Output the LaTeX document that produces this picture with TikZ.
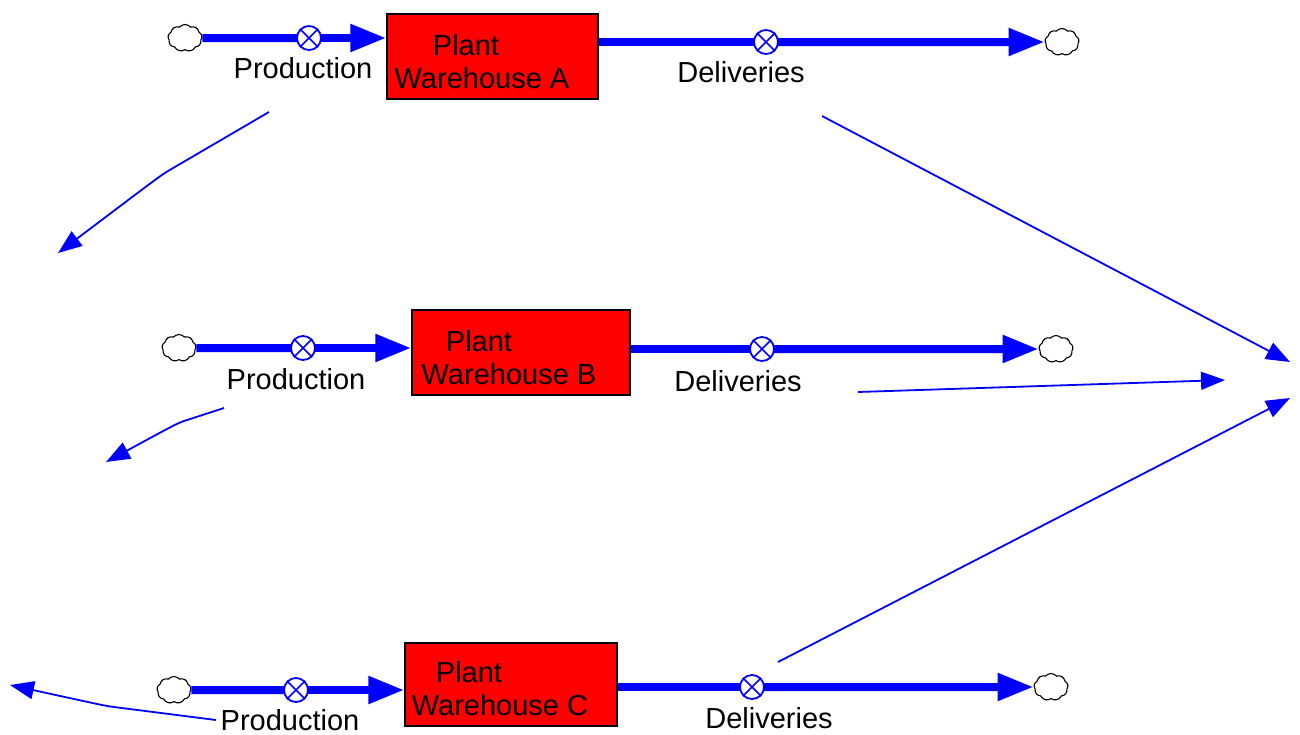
\documentclass[tikz,border=0pt]{standalone}
\usepackage{fontspec}
\setmainfont{Liberation Sans}
\usetikzlibrary{arrows.meta,shapes.symbols}
\definecolor{flowblue}{RGB}{0,0,255}
\definecolor{stockred}{RGB}{255,0,0}
\tikzset{
  stockbox/.style={draw=black,line width=1.2pt,fill=stockred,minimum width=211pt,minimum height=85pt,inner sep=0pt},
  valvering/.style={draw=flowblue,fill=white,circle,line width=1.8pt,minimum size=24pt,inner sep=0pt},
  valvecross/.style={draw=flowblue,line width=1.6pt},
  sink/.style={cloud,cloud puffs=9,cloud puff arc=100,aspect=1.25,draw=black,line width=1.1pt,fill=white,minimum width=34pt,minimum height=27pt,inner sep=0pt},
  flow/.style={draw=flowblue,line width=8pt},
  flowend/.style={flow,-{Triangle[length=36pt,width=26pt]}},
  link/.style={draw=flowblue,line width=1.8pt,-{Triangle[length=24pt,width=18pt]}},
  lbl/.style={font=\fontsize{29}{33}\selectfont,inner sep=0pt,text=black},
}
\begin{document}
\begin{tikzpicture}[x=1pt,y=-1pt]
\useasboundingbox (0,0) rectangle (1300,734);

% ---------- Plant Warehouse A ----------
\node[stockbox] (whA) at (492.5,56.5) {};
\node[lbl] (whAt1) at (466,45) {Plant};
\node[lbl] (whAt2) at (482,78) {Warehouse A};
\node[sink] (srcA) at (185,38) {};
\node[sink] (snkA) at (1062,42) {};
\coordinate (vA) at (309,38);
\coordinate (vdA) at (766,42);
\draw[flow] (srcA.east) -- (vA);
\draw[flowend] (vA) -- (vA -| whA.west);
\draw[flow] (vdA -| whA.east) -- (vdA);
\draw[flowend] (vdA) -- (snkA.west);
\node[valvering] (valvePA) at (vA) {};
\draw[valvecross] (valvePA.north west) -- (valvePA.south east) (valvePA.south west) -- (valvePA.north east);
\node[valvering] (valveDA) at (vdA) {};
\draw[valvecross] (valveDA.north west) -- (valveDA.south east) (valveDA.south west) -- (valveDA.north east);
\node[lbl] (prodA) at (303,68) {Production};
\node[lbl] (delA) at (741,72) {Deliveries};

% ---------- Plant Warehouse B ----------
\node[stockbox,minimum width=218pt] (whB) at (521,352.5) {};
\node[lbl] (whBt1) at (479,341) {Plant};
\node[lbl] (whBt2) at (509,374) {Warehouse B};
\node[sink] (srcB) at (179,348) {};
\node[sink] (snkB) at (1056,349) {};
\coordinate (vB) at (303,348);
\coordinate (vdB) at (762,349);
\draw[flow] (srcB.east) -- (vB);
\draw[flowend] (vB) -- (vB -| whB.west);
\draw[flow] (vdB -| whB.east) -- (vdB);
\draw[flowend] (vdB) -- (snkB.west);
\node[valvering] (valvePB) at (vB) {};
\draw[valvecross] (valvePB.north west) -- (valvePB.south east) (valvePB.south west) -- (valvePB.north east);
\node[valvering] (valveDB) at (vdB) {};
\draw[valvecross] (valveDB.north west) -- (valveDB.south east) (valveDB.south west) -- (valveDB.north east);
\node[lbl] (prodB) at (296,379) {Production};
\node[lbl] (delB) at (738,381) {Deliveries};

% ---------- Plant Warehouse C ----------
\node[stockbox,minimum width=212pt,minimum height=83pt] (whC) at (511,684.5) {};
\node[lbl] (whCt1) at (469,672) {Plant};
\node[lbl] (whCt2) at (500,705) {Warehouse C};
\node[sink] (srcC) at (174,690) {};
\node[sink] (snkC) at (1051,687) {};
\coordinate (vC) at (296,690);
\coordinate (vdC) at (752,687);
\draw[flow] (srcC.east) -- (vC);
\draw[flowend] (vC) -- (vC -| whC.west);
\draw[flow] (vdC -| whC.east) -- (vdC);
\draw[flowend] (vdC) -- (snkC.west);
\node[valvering] (valvePC) at (vC) {};
\draw[valvecross] (valvePC.north west) -- (valvePC.south east) (valvePC.south west) -- (valvePC.north east);
\node[valvering] (valveDC) at (vdC) {};
\draw[valvecross] (valveDC.north west) -- (valveDC.south east) (valveDC.south west) -- (valveDC.north east);
\node[lbl] (prodC) at (290,720) {Production};
\node[lbl] (delC) at (769,718) {Deliveries};

% ---------- information links ----------
\coordinate (pA0) at (269,112);
\coordinate (pA1) at (58,253);
\draw[link] (pA0) -- (168,171) .. controls (160,176) .. (pA1);
\coordinate (pB0) at (224,408);
\coordinate (pB1) at (106,462);
\draw[link] (pB0) -- (184,421) .. controls (176,424) .. (pB1);
\coordinate (pC0) at (216,720);
\coordinate (pC1) at (10,685);
\draw[link] (pC0) -- (114,707) .. controls (106,706) .. (pC1);

\coordinate (dA0) at (822,116);
\coordinate (dB0) at (858,392);
\coordinate (dC0) at (778,662);
\coordinate (outA) at (1290,362);
\coordinate (outB) at (1225,380);
\coordinate (outC) at (1290,398);
\draw[link] (dA0) -- (outA);
\draw[link] (dB0) -- (outB);
\draw[link] (dC0) -- (outC);
\end{tikzpicture}
\end{document}
